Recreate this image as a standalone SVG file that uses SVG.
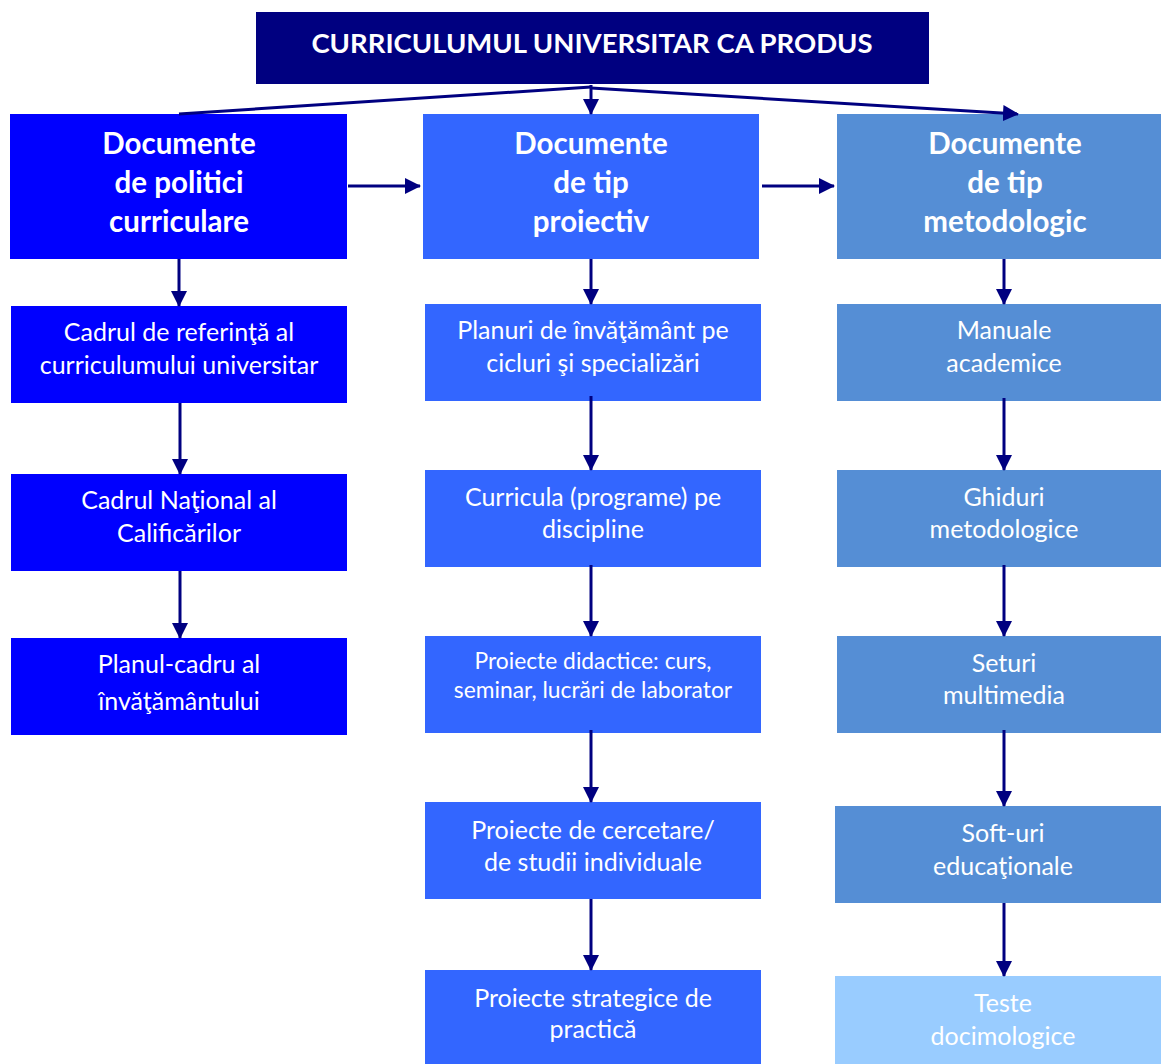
<svg xmlns="http://www.w3.org/2000/svg" width="1161" height="1064" viewBox="0 0 1161 1064">
<style>
text{font-family:Lato,"Open Sans","Liberation Sans",sans-serif;fill:#fff;text-anchor:middle}
.t{font-size:27.5px;font-weight:bold}
.h{font-size:29.5px;font-weight:bold}
.b{font-size:25px}
.s{font-size:22.8px}
.c1{fill:#0000FF}
.c2{fill:#3366FF}
.c3{fill:#558ED5}
.c4{fill:#99CCFF}
.ln{stroke:#000080;stroke-width:3;fill:none}
</style>
<defs>
<marker id="ah" markerUnits="userSpaceOnUse" markerWidth="16" markerHeight="16" viewBox="0 0 16 16" refX="15" refY="8" orient="auto">
<path d="M0,0 L16,8 L0,16 Z" fill="#000080"/>
</marker>
</defs>
<rect width="1161" height="1064" fill="#fff"/>
<g id="title">
<rect x="256" y="12" width="673" height="72" fill="#000080"/>
<text class="t" x="592" y="53">CURRICULUMUL UNIVERSITAR CA PRODUS</text>
</g>
<g id="h1">
<rect class="c1" x="10" y="114" width="337" height="145"/>
<text class="h" x="179" y="154">Documente</text>
<text class="h" x="179" y="193">de politici</text>
<text class="h" x="179" y="232">curriculare</text>
</g>
<g id="h2">
<rect class="c2" x="423" y="114" width="336" height="145"/>
<text class="h" x="591" y="154">Documente</text>
<text class="h" x="591" y="193">de tip</text>
<text class="h" x="591" y="232">proiectiv</text>
</g>
<g id="h3">
<rect class="c3" x="837" y="114" width="324" height="145"/>
<text class="h" x="1005" y="154">Documente</text>
<text class="h" x="1005" y="193">de tip</text>
<text class="h" x="1005" y="232">metodologic</text>
</g>
<g id="l1">
<rect class="c1" x="11" y="306" width="336" height="97"/>
<text class="b" x="179" y="341">Cadrul de referinţă al</text>
<text class="b" x="179" y="374">curriculumului universitar</text>
</g>
<g id="l2">
<rect class="c1" x="11" y="474" width="336" height="97"/>
<text class="b" x="179" y="509">Cadrul Naţional al</text>
<text class="b" x="179" y="542">Calificărilor</text>
</g>
<g id="l3">
<rect class="c1" x="11" y="638" width="336" height="97"/>
<text class="b" x="179" y="673">Planul-cadru al</text>
<text class="b" x="179" y="710">învăţământului</text>
</g>
<g id="m1">
<rect class="c2" x="425" y="304" width="336" height="97"/>
<text class="b" x="593" y="339">Planuri de învăţământ pe</text>
<text class="b" x="593" y="372">cicluri şi specializări</text>
</g>
<g id="m2">
<rect class="c2" x="425" y="470" width="336" height="97"/>
<text class="b" x="593" y="506">Curricula (programe) pe</text>
<text class="b" x="593" y="538">discipline</text>
</g>
<g id="m3">
<rect class="c2" x="425" y="636" width="336" height="97"/>
<text class="s" x="593" y="669">Proiecte didactice: curs,</text>
<text class="s" x="593" y="698">seminar, lucrări de laborator</text>
</g>
<g id="m4">
<rect class="c2" x="425" y="802" width="336" height="97"/>
<text class="b" x="593" y="839">Proiecte de cercetare/</text>
<text class="b" x="593" y="871">de studii individuale</text>
</g>
<g id="m5">
<rect class="c2" x="425" y="970" width="336" height="94"/>
<text class="b" x="593" y="1007">Proiecte strategice de</text>
<text class="b" x="593" y="1038">practică</text>
</g>
<g id="r1">
<rect class="c3" x="837" y="304" width="324" height="97"/>
<text class="b" x="1004" y="339">Manuale</text>
<text class="b" x="1004" y="372">academice</text>
</g>
<g id="r2">
<rect class="c3" x="837" y="470" width="324" height="97"/>
<text class="b" x="1004" y="506">Ghiduri</text>
<text class="b" x="1004" y="538">metodologice</text>
</g>
<g id="r3">
<rect class="c3" x="837" y="636" width="324" height="97"/>
<text class="b" x="1004" y="672">Seturi</text>
<text class="b" x="1004" y="704">multimedia</text>
</g>
<g id="r4">
<rect class="c3" x="835" y="806" width="326" height="97"/>
<text class="b" x="1003" y="842">Soft-uri</text>
<text class="b" x="1003" y="875">educaţionale</text>
</g>
<g id="r5">
<rect class="c4" x="835" y="976" width="326" height="88"/>
<text class="b" x="1003" y="1012">Teste</text>
<text class="b" x="1003" y="1045">docimologice</text>
</g>
<g id="connectors" class="ln">
<line x1="179" y1="114" x2="591" y2="87"/>
<line x1="591" y1="85" x2="591" y2="114" marker-end="url(#ah)"/>
<line x1="591" y1="88" x2="1018" y2="114" marker-end="url(#ah)"/>
<line x1="348" y1="186" x2="420" y2="186" marker-end="url(#ah)"/>
<line x1="762" y1="186" x2="834" y2="186" marker-end="url(#ah)"/>
<line x1="179" y1="259" x2="179" y2="306" marker-end="url(#ah)"/>
<line x1="180" y1="403" x2="180" y2="474" marker-end="url(#ah)"/>
<line x1="180" y1="571" x2="180" y2="638" marker-end="url(#ah)"/>
<line x1="591" y1="259" x2="591" y2="304" marker-end="url(#ah)"/>
<line x1="591" y1="396" x2="591" y2="470" marker-end="url(#ah)"/>
<line x1="591" y1="565" x2="591" y2="636" marker-end="url(#ah)"/>
<line x1="591" y1="730" x2="591" y2="802" marker-end="url(#ah)"/>
<line x1="591" y1="899" x2="591" y2="970" marker-end="url(#ah)"/>
<line x1="1004" y1="259" x2="1004" y2="304" marker-end="url(#ah)"/>
<line x1="1004" y1="398" x2="1004" y2="470" marker-end="url(#ah)"/>
<line x1="1004" y1="565" x2="1004" y2="636" marker-end="url(#ah)"/>
<line x1="1004" y1="730" x2="1004" y2="806" marker-end="url(#ah)"/>
<line x1="1004" y1="903" x2="1004" y2="976" marker-end="url(#ah)"/>
</g>
</svg>
